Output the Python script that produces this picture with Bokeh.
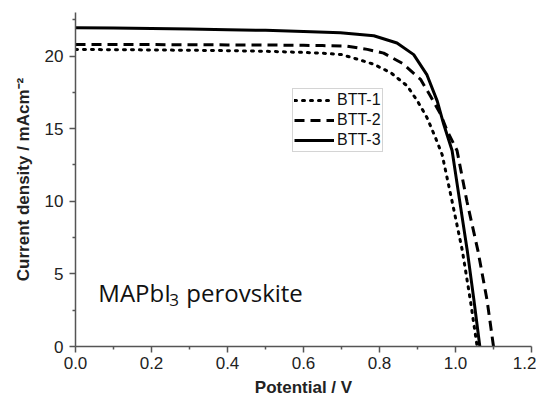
from bokeh.plotting import figure
from bokeh.models import Range1d, FixedTicker, NumeralTickFormatter, Legend, LegendItem
from bokeh.core.properties import value
from bokeh.embed import file_html
from bokeh.resources import INLINE

# ---- data ----
v_btt1 = [0, 0.1, 0.2, 0.3, 0.4, 0.5, 0.6, 0.65, 0.7, 0.74, 0.785, 0.83, 0.873, 0.9, 0.925, 0.947, 0.965, 0.991, 1.018, 1.039, 1.057]
j_btt1 = [20.45, 20.44, 20.42, 20.4, 20.37, 20.33, 20.25, 20.2, 20.1, 19.8, 19.43, 18.85, 17.94, 16.9, 15.76, 14.4, 13.2, 10.0, 6.6, 3.2, 0]

v_btt2 = [0, 0.1, 0.2, 0.3, 0.4, 0.5, 0.6, 0.65, 0.711, 0.768, 0.811, 0.86, 0.908, 0.934, 0.961, 0.978, 1.004, 1.03, 1.059, 1.083, 1.10]
j_btt2 = [20.8, 20.8, 20.79, 20.78, 20.77, 20.76, 20.74, 20.72, 20.69, 20.46, 20.2, 19.5, 18.4, 17.25, 16.0, 14.85, 13.5, 10.0, 6.6, 3.2, 0]

v_btt3 = [0, 0.1, 0.2, 0.3, 0.4, 0.5, 0.6, 0.697, 0.785, 0.846, 0.89, 0.925, 0.952, 0.969, 0.991, 1.01, 1.031, 1.048, 1.064]
j_btt3 = [21.95, 21.93, 21.9, 21.86, 21.82, 21.77, 21.7, 21.6, 21.4, 20.9, 20.1, 18.7, 16.9, 15.3, 13.5, 10.2, 6.6, 3.3, 0]

series_names = ["BTT-1", "BTT-2", "BTT-3"]
x_ticks = [0.0, 0.2, 0.4, 0.6, 0.8, 1.0, 1.2]
x_minor = [0.1, 0.3, 0.5, 0.7, 0.9, 1.1]
y_ticks = [0, 5, 10, 15, 20]
y_minor = [2.5, 7.5, 12.5, 17.5, 22.5]

AXIS_FONT = "Liberation Sans"

p = figure(width=536, height=400, x_range=Range1d(0, 1.2), y_range=Range1d(0, 23),
           output_backend="svg", toolbar_location=None,
           min_border_left=75, min_border_right=5, min_border_top=12, min_border_bottom=54)
p.outline_line_color = None
p.xgrid.visible = False
p.ygrid.visible = False
p.background_fill_color = "white"
p.border_fill_color = "white"

for ax in (p.xaxis[0], p.yaxis[0]):
    ax.axis_line_color = "#555555"
    ax.axis_line_width = 1.5
    ax.major_tick_line_color = "#555555"
    ax.minor_tick_line_color = "#555555"
    ax.major_tick_line_width = 1.5
    ax.minor_tick_line_width = 1.5
    ax.major_tick_in = 0
    ax.major_tick_out = 6
    ax.minor_tick_in = 0
    ax.minor_tick_out = 3
    ax.major_label_text_font = AXIS_FONT
    ax.major_label_text_font_size = "17px"
    ax.major_label_text_color = "#222222"
    ax.axis_label_text_font = AXIS_FONT
    ax.axis_label_text_font_style = "bold"
    ax.axis_label_text_font_size = "17px"
    ax.axis_label_text_color = "#222222"

p.xaxis.ticker = FixedTicker(ticks=x_ticks, minor_ticks=x_minor)
p.xaxis.formatter = NumeralTickFormatter(format="0.0")
p.xaxis.axis_label = "Potential / V"
p.xaxis.major_label_standoff = 4
p.xaxis.axis_label_standoff = 6

p.yaxis.ticker = FixedTicker(ticks=y_ticks, minor_ticks=y_minor)
p.yaxis.axis_label = "Current density / mAcm\u207b\u00b2"
p.yaxis.major_label_standoff = 6
p.yaxis.axis_label_standoff = 9

r1 = p.line(v_btt1, j_btt1, line_color="black", line_width=3, line_dash="2 6", line_cap="round")
r2 = p.line(v_btt2, j_btt2, line_color="black", line_width=3, line_dash="10 6")
r3 = p.line(v_btt3, j_btt3, line_color="black", line_width=3)

legend = Legend(items=[LegendItem(label=series_names[0], renderers=[r1]),
                       LegendItem(label=series_names[1], renderers=[r2]),
                       LegendItem(label=series_names[2], renderers=[r3])],
                location=(217, 194))
legend.label_text_font = AXIS_FONT
legend.label_text_font_size = "16px"
legend.label_text_color = "#111111"
legend.glyph_width = 40
legend.glyph_height = 20
legend.label_height = 20
legend.label_standoff = 3
legend.spacing = 0
legend.padding = 1
legend.margin = 0
legend.border_line_color = "#aaaaaa"
legend.border_line_width = 1
legend.background_fill_color = "white"
legend.background_fill_alpha = 1
p.add_layout(legend, "center")

# annotation text
ann_font = value("Open Sans")
p.text(x=[0.06], y=[3.7], text=["MAPbI"], text_font=ann_font, text_font_size="24px",
       text_color="#111111", text_baseline="alphabetic", text_align="left")
p.text(x=[0.06], y=[3.7], text=["3"], text_font=ann_font, text_font_size="17px",
       text_color="#111111", text_baseline="alphabetic", text_align="left", x_offset=71, y_offset=7)
p.text(x=[0.06], y=[3.7], text=["perovskite"], text_font=ann_font, text_font_size="24px",
       text_color="#111111", text_baseline="alphabetic", text_align="left", x_offset=88)

open("out.html", "w").write(file_html(p, INLINE))
